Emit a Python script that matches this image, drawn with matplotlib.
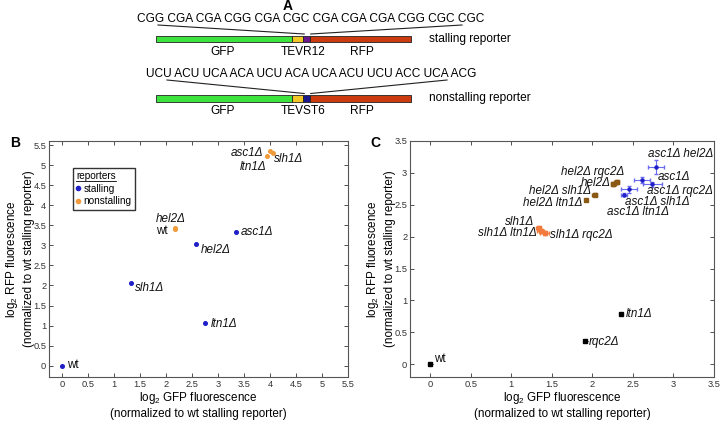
import matplotlib
matplotlib.use("Agg")
import matplotlib.pyplot as plt
from matplotlib.patches import Rectangle
from matplotlib.lines import Line2D

plt.rcParams['font.family'] = ['Liberation Sans', 'DejaVu Sans']
plt.rcParams['mathtext.fontset'] = 'custom'
plt.rcParams['mathtext.rm'] = 'Liberation Sans'

########################################################################################################################
# DATA
########################################################################################################################
# panel A: reporter constructs (segment lengths, arbitrary units)
segment_names = ["GFP", "TEV", "insert", "RFP"]
segment_lengths = [136, 11.5, 6.5, 101]
stall_seq = "CGG CGA CGA CGG CGA CGC CGA CGA CGA CGG CGC CGC"
nonstall_seq = "UCU ACU UCA ACA UCU ACA UCA ACU UCU ACC UCA ACG"

# panel B
b_stall_names = ["wt", "slh1Δ", "ltn1Δ", "hel2Δ", "asc1Δ"]
b_stall_x = [0.0, 1.33, 2.75, 2.58, 3.35]
b_stall_y = [0.0, 2.05, 1.06, 3.04, 3.33]
b_non_names = ["wt", "hel2Δ", "ltn1Δ", "asc1Δ", "slh1Δ"]
b_non_x = [2.17, 2.18, 3.95, 4.0, 4.05]
b_non_y = [3.40, 3.42, 5.23, 5.36, 5.31]

# panel C
c_ctrl_names = ["wt", "rqc2Δ", "ltn1Δ"]
c_ctrl_x = [0.0, 1.91, 2.35]
c_ctrl_y = [0.0, 0.37, 0.78]
c_ctrl_xerr = [0.03, 0.03, 0.02]
c_ctrl_yerr = [0.01, 0.01, 0.01]

c_slh_names = ["slh1Δ", "slh1Δ ltn1Δ", "slh1Δ rqc2Δ"]
c_slh_x = [1.34, 1.36, 1.41]
c_slh_y = [2.14, 2.09, 2.06]
c_slh_xerr = [0.03, 0.04, 0.06]
c_slh_yerr = [0.03, 0.03, 0.03]

c_hel_names = ["hel2Δ ltn1Δ", "hel2Δ slh1Δ", "hel2Δ", "hel2Δ rqc2Δ"]
c_hel_x = [1.92, 2.03, 2.26, 2.30]
c_hel_y = [2.58, 2.66, 2.83, 2.86]
c_hel_xerr = [0.01, 0.03, 0.03, 0.03]
c_hel_yerr = [0.01, 0.02, 0.03, 0.03]

c_asc_names = ["asc1Δ ltn1Δ", "asc1Δ slh1Δ", "asc1Δ", "asc1Δ rqc2Δ", "asc1Δ hel2Δ"]
c_asc_x = [2.39, 2.45, 2.61, 2.74, 2.78]
c_asc_y = [2.66, 2.74, 2.89, 2.82, 3.09]
c_asc_xerr = [0.04, 0.10, 0.10, 0.12, 0.10]
c_asc_yerr = [0.02, 0.05, 0.05, 0.04, 0.11]

BLUE = "#1f1fc8"
LIGHT_BLUE = "#6b6bf0"
ORANGE = "#f09a3a"
ORANGE_C = "#f27a3c"
BROWN = "#8a5a14"

LABEL_SIZE = 8.4
TICK_SIZE = 6.7


def style_axes(ax, xmax, ymin, ymax):
    ax.set_xlim(-0.25, xmax)
    ax.set_ylim(ymin, ymax)
    ticks_x = [i * 0.5 for i in range(int(xmax / 0.5) + 1)]
    ticks_y = [i * 0.5 for i in range(int(ymax / 0.5) + 1)]
    ax.set_xticks(ticks_x)
    ax.set_yticks(ticks_y)
    ax.set_xticklabels(["%g" % t for t in ticks_x])
    ax.set_yticklabels(["%g" % t for t in ticks_y])
    ax.tick_params(direction="in", top=True, right=True, length=3, width=0.6,
                   labelsize=TICK_SIZE, colors="#333333", pad=2)
    for sp in ax.spines.values():
        sp.set_color("#555555")
        sp.set_linewidth(0.8)
    ax.set_xlabel("log$_2$ GFP fluorescence\n(normalized to wt stalling reporter)",
                  fontsize=8.4, labelpad=1, linespacing=1.25)
    ax.set_ylabel("log$_2$ RFP fluorescence\n(normalized to wt stalling reporter)",
                  fontsize=8.4, labelpad=-1, linespacing=1.3)


def put_label(ax, name, x, y, ha):
    style = "normal" if name == "wt" else "italic"
    ax.text(x, y, name, ha=ha, va="center", fontsize=LABEL_SIZE, style=style, color="#111111")


fig = plt.figure(figsize=(7.22, 4.22), dpi=100)

########################################################################################################################
# PANEL A (pixel coordinates overlay)
########################################################################################################################
ax_a = fig.add_axes([0, 0, 1, 1])
ax_a.set_xlim(0, 722)
ax_a.set_ylim(422, 0)
ax_a.axis("off")

ax_a.text(288, 6, "A", fontsize=10, fontweight="bold", ha="center", va="center")


def draw_reporter(y_bar, insert_color, seq, y_seq, line_starts, tev_name, name):
    colors = ["#3ee43e", "#f2c626", insert_color, "#cc3a10"]
    x0 = 155.7
    edges = [x0]
    for w in segment_lengths:
        edges.append(edges[-1] + w)
    for i, w in enumerate(segment_lengths):
        ax_a.add_patch(Rectangle((edges[i], y_bar - 3.3), w, 6.6, facecolor=colors[i],
                                 edgecolor="#222222", linewidth=0.6))
    ax_a.text(311, y_seq, seq, fontsize=8.6, ha="center", va="center")
    ax_a.plot([line_starts[0], edges[2] + 1], [y_seq + 6, y_bar - 5], color="#222222", lw=0.8)
    ax_a.plot([line_starts[1], edges[3] + 1], [y_seq + 6, y_bar - 5], color="#222222", lw=0.8)
    ax_a.text(223, y_bar + 13, "GFP", fontsize=8.6, ha="center", va="center")
    ax_a.text(303, y_bar + 13, tev_name, fontsize=8.6, ha="center", va="center")
    ax_a.text(362, y_bar + 13, "RFP", fontsize=8.6, ha="center", va="center")
    ax_a.text(429, y_bar, name, fontsize=8.6, ha="left", va="center")


draw_reporter(39, "#6a1a8a", stall_seq, 19, [158, 462], "TEVR12", "stalling reporter")
draw_reporter(98.5, "#1a1a8a", nonstall_seq, 74, [167, 447], "TEVST6", "nonstalling reporter")

########################################################################################################################
# PANEL B
########################################################################################################################
ax_b = fig.add_axes([49 / 722, 45 / 422, 299 / 722, 236 / 422])
style_axes(ax_b, 5.5, -0.28, 5.6)
ax_b.errorbar(b_stall_x, b_stall_y, xerr=0.03, yerr=0.03, fmt="o", ms=2.6, color=BLUE,
              elinewidth=0.8, capsize=0)
ax_b.errorbar(b_non_x, b_non_y, xerr=0.04, yerr=0.04, fmt="o", ms=2.6, color=ORANGE,
              elinewidth=0.8, capsize=0)

b_stall_lab = [(0.10, 0.02, "left"), (1.41, 1.94, "left"), (2.86, 1.03, "left"),
               (2.67, 2.89, "left"), (3.44, 3.33, "left")]
b_non_lab = [(2.03, 3.35, "right"), (2.37, 3.65, "right"), (3.93, 4.94, "right"),
             (3.87, 5.30, "right"), (4.07, 5.14, "left")]
for name, (lx, ly, ha) in zip(b_stall_names, b_stall_lab):
    put_label(ax_b, name, lx, ly, ha)
for name, (lx, ly, ha) in zip(b_non_names, b_non_lab):
    put_label(ax_b, name, lx, ly, ha)

handles = [Line2D([], [], marker="o", ls="", ms=3, color=BLUE),
           Line2D([], [], marker="o", ls="", ms=3, color=ORANGE)]
leg = ax_b.legend(handles, ["stalling", "nonstalling"], title="reporters",
                  loc="upper left", bbox_to_anchor=(0.08, 0.886), borderaxespad=0,
                  fontsize=7.2, title_fontsize=7.2, frameon=True, fancybox=False,
                  handlelength=0.4, handletextpad=0.3, borderpad=0.35, labelspacing=0.25)
leg.get_frame().set_edgecolor("black")
leg.get_frame().set_linewidth(1.0)
leg._legend_box.align = "left"

fig.text(10 / 722, 1 - 143 / 422, "B", fontsize=10, fontweight="bold", ha="left", va="center")

########################################################################################################################
# PANEL C
########################################################################################################################
ax_c = fig.add_axes([410 / 722, 45 / 422, 304 / 722, 236 / 422])
style_axes(ax_c, 3.5, -0.2, 3.5)
ax_c.errorbar(c_ctrl_x, c_ctrl_y, xerr=c_ctrl_xerr, yerr=c_ctrl_yerr, fmt="s", ms=3,
              color="black", elinewidth=0.8, capsize=0)
ax_c.errorbar(c_slh_x, c_slh_y, xerr=c_slh_xerr, yerr=c_slh_yerr, fmt="s", ms=3,
              color=ORANGE_C, elinewidth=1.0, capsize=1.2)
ax_c.errorbar(c_hel_x, c_hel_y, xerr=c_hel_xerr, yerr=c_hel_yerr, fmt="s", ms=3,
              color=BROWN, elinewidth=1.0, capsize=1.2)
ax_c.errorbar(c_asc_x, c_asc_y, xerr=c_asc_xerr, yerr=c_asc_yerr, fmt="o", ms=2.2,
              color=BLUE, ecolor=LIGHT_BLUE, elinewidth=0.8, capsize=1.5)

c_ctrl_lab = [(0.05, 0.09, "left"), (1.95, 0.35, "left"), (2.41, 0.78, "left")]
c_slh_lab = [(1.28, 2.23, "right"), (1.31, 2.06, "right"), (1.48, 2.02, "left")]
c_hel_lab = [(1.88, 2.53, "right"), (1.98, 2.71, "right"), (2.23, 2.84, "right"),
             (2.39, 3.01, "right")]
c_asc_lab = [(2.18, 2.38, "left"), (2.40, 2.55, "left"), (2.81, 2.93, "left"),
             (3.49, 2.72, "right"), (3.49, 3.29, "right")]
for names, labs in [(c_ctrl_names, c_ctrl_lab), (c_slh_names, c_slh_lab),
                    (c_hel_names, c_hel_lab), (c_asc_names, c_asc_lab)]:
    for name, (lx, ly, ha) in zip(names, labs):
        put_label(ax_c, name, lx, ly, ha)

fig.text(370 / 722, 1 - 143 / 422, "C", fontsize=10, fontweight="bold", ha="left", va="center")

# underline the legend title
fig.canvas.draw()
bb = leg.get_title().get_window_extent().transformed(fig.transFigure.inverted())
fig.add_artist(Line2D([bb.x0, bb.x1], [bb.y0 + 0.002, bb.y0 + 0.002], color="black",
                      lw=0.6, transform=fig.transFigure))

plt.savefig("out.png", dpi=100)
